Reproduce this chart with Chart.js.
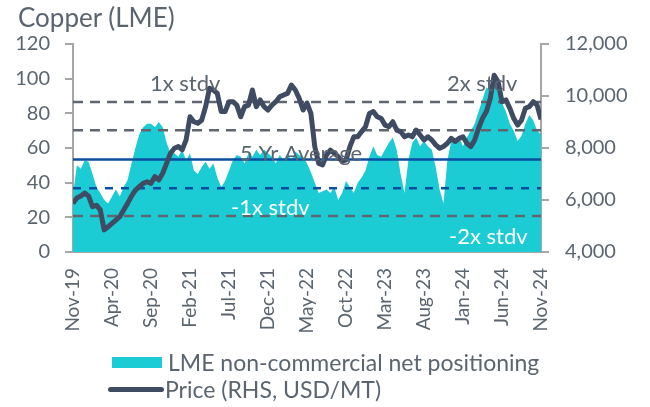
<!DOCTYPE html>
<html lang="en">
<head>
<meta charset="UTF-8">
<title>Copper (LME)</title>
<script src="https://cdn.jsdelivr.net/npm/chart.js"></script>
<style>
    body { margin: 0; background: #fff; font-family: 'Lato', sans-serif; }
    #wrap { position: relative; width: 650px; height: 407px; }
    #title { position: absolute; left: 18px; top: 1px; font-size: 26px; color: #5b6570; }
    .leg { position: absolute; left: 110px; height: 24px; font-size: 23px; color: #5b6570; display: flex; align-items: center; white-space: nowrap; }
    .box { width: 50px; height: 11px; background: #1bccd4; margin: 0 6px 0 2px; }
    .ln { width: 56px; height: 5px; border-radius: 3px; background: #3f4b62; margin: 0 1px 0 -2px; }
</style>
</head>
<body>
<div id="wrap">
    <canvas id="chart" width="650" height="407"></canvas>
    <div id="title">Copper (LME)</div>
    <div class="leg" style="top:350px"><span class="box"></span>LME non-commercial net positioning</div>
    <div class="leg" style="top:377px"><span class="ln"></span>Price (RHS, USD/MT)</div>
</div>
<script>
// half-monthly points, Nov-19 .. Nov-24
const tickLabels = ['Nov-19', 'Apr-20', 'Sep-20', 'Feb-21', 'Jul-21', 'Dec-21', 'May-22',
    'Oct-22', 'Mar-23', 'Aug-23', 'Jan-24', 'Jun-24', 'Nov-24'];

const netPositioning = [
    33, 50, 48, 53, 52, 45, 37.5, 34, 30, 28,
    32, 36, 32, 37.5, 41.5, 51, 60, 68, 72, 74,
    74, 72, 75, 72, 63, 57, 57, 55, 59, 53,
    57, 47, 45, 49, 52, 48, 51, 43, 37.5, 41,
    47, 53, 56, 55, 51, 57, 55, 59, 56, 59,
    57, 55, 51, 56, 53, 57, 53, 58, 56, 55,
    51, 46, 40, 34, 35, 36, 34, 37.5, 30, 34,
    41, 37.5, 34, 40, 43, 47, 55, 61, 56, 55,
    59, 63, 66, 59, 45, 34, 53, 63, 66, 61,
    64, 61, 59, 49, 36, 28, 53, 64, 63, 66,
    61, 66, 70, 74, 81, 88, 95, 93, 101, 96,
    86, 81, 74, 70, 64, 67, 74, 79, 76, 70,
    68
];

const price = [
    5870, 6080, 6150, 6270, 6150, 5740, 5800, 5620, 4850, 4970,
    5100, 5230, 5360, 5620, 5870, 6150, 6380, 6510, 6640, 6700,
    6640, 6900, 6770, 7030, 7410, 7800, 7990, 8060, 7930, 8310,
    9200, 9010, 8950, 9070, 9590, 10300, 10230, 10100, 9400, 9400,
    9780, 9780, 9650, 9200, 9590, 9650, 10230, 9590, 9850, 9590,
    9460, 9650, 9780, 9970, 10040, 10100, 10420, 10230, 9910, 9460,
    9730, 9330, 8050, 7410, 7350, 7730, 7920, 7800, 7670, 7480,
    7540, 8050, 8430, 8430, 8630, 8820, 9330, 9400, 9200, 9140,
    8880, 8820, 9010, 8690, 8630, 8430, 8500, 8430, 8690, 8500,
    8310, 8430, 8310, 8120, 7990, 8060, 8180, 8370, 8250, 8370,
    8430, 8180, 8050, 8310, 8760, 9140, 9400, 9910, 10800, 10550,
    9780, 9850, 9530, 9140, 8880, 9070, 9530, 9590, 9780, 9650,
    9100
];

// +2, +1, mean, -1, -2 stdv
const bandLevels = [86.6, 70.3, 53.3, 36.8, 20.8];
const bandNames = ['2x stdv', '1x stdv', '5 Yr Average', '-1x stdv', '-2x stdv'];

const toXY = arr => arr.map((v, i) => ({ x: i, y: v }));
const flat = v => [{ x: 0, y: v }, { x: netPositioning.length - 1, y: v }];

const grey = '#5b6570';
const axisGrey = '#a6a6a6';
const bandStyle = [
    { color: '#5f6670', dash: [10, 7] },
    { color: '#5f6670', dash: [10, 7] },
    { color: '#0b4ea2', dash: [] },
    { color: '#0b4ea2', dash: [8, 8] },
    { color: '#5f6670', dash: [10, 7] }
];

const datasets = [{
    label: 'Price (RHS, USD/MT)',
    data: toXY(price),
    yAxisID: 'y2',
    borderColor: '#3f4b62',
    borderWidth: 5,
    pointRadius: 0,
    borderJoinStyle: 'round',
    order: 0
}];
bandLevels.forEach((lvl, k) => {
    datasets.push({
        label: bandNames[k],
        data: flat(lvl),
        yAxisID: 'y',
        borderColor: bandStyle[k].color,
        borderDash: bandStyle[k].dash,
        borderWidth: 2.5,
        pointRadius: 0,
        order: 1
    });
});
datasets.push({
    label: 'LME non-commercial net positioning',
    data: toXY(netPositioning),
    yAxisID: 'y',
    backgroundColor: '#1bccd4',
    borderWidth: 0,
    pointRadius: 0,
    fill: 'origin',
    order: 2
});

// stdv labels on the chart
const bandText = {
    id: 'bandText',
    afterDatasetsDraw(chart) {
        const c = chart.ctx, y = chart.scales.y;
        c.save();
        c.font = '22px Lato';
        c.textBaseline = 'middle';
        c.fillStyle = grey;
        c.fillText('1x stdv', 150, y.getPixelForValue(bandLevels[0]) - 18);
        c.fillText('2x stdv', 447, y.getPixelForValue(bandLevels[0]) - 18);
        c.fillText('5 Yr Average', 240, y.getPixelForValue(bandLevels[2]) - 6);
        c.fillStyle = '#ffffff';
        c.fillText('-1x stdv', 231, y.getPixelForValue(bandLevels[4]) - 8);
        c.fillText('-2x stdv', 449, y.getPixelForValue(0) - 15);
        c.restore();
    }
};

new Chart(document.getElementById('chart'), {
    type: 'line',
    data: { datasets },
    options: {
        responsive: false,
        animation: false,
        layout: { padding: { top: 44, left: 0, right: 0, bottom: 0 } },
        plugins: { legend: { display: false }, tooltip: { enabled: false } },
        scales: {
            x: {
                type: 'linear',
                min: 0,
                max: netPositioning.length - 1,
                afterFit(s) { s.height = 155; },
                afterBuildTicks(s) { s.ticks = tickLabels.map((t, i) => ({ value: i * 10 })); },
                grid: { display: false },
                border: { color: axisGrey, width: 2 },
                ticks: {
                    color: grey,
                    font: { family: 'Lato', size: 19 },
                    maxRotation: 90,
                    minRotation: 90,
                    padding: 8,
                    callback: v => tickLabels[v / 10]
                }
            },
            y: {
                position: 'left',
                min: 0, max: 120,
                afterFit(s) { s.width = 73; },
                grid: { drawOnChartArea: false, color: axisGrey, tickLength: 8, lineWidth: 2 },
                border: { color: axisGrey, width: 2 },
                ticks: { stepSize: 20, color: grey, padding: 15, font: { family: 'Lato', size: 20 } }
            },
            y2: {
                position: 'right',
                min: 4000, max: 12000,
                afterFit(s) { s.width = 109; },
                grid: { drawOnChartArea: false, color: axisGrey, tickLength: 8, lineWidth: 2 },
                border: { color: axisGrey, width: 2 },
                ticks: {
                    stepSize: 2000, color: grey, padding: 16, font: { family: 'Lato', size: 20 },
                    callback: v => v.toLocaleString('en-US')
                }
            }
        }
    },
    plugins: [bandText]
});
</script>
</body>
</html>
